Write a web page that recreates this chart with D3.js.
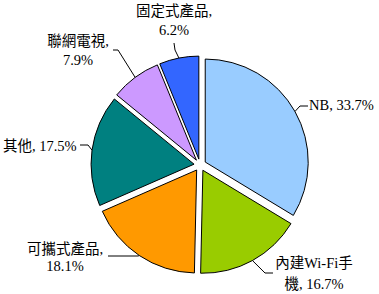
<!DOCTYPE html>
<html>
<head>
<meta charset="utf-8">
<script src="https://cdn.jsdelivr.net/npm/d3@7"></script>
<style>
  body { margin: 0; background: #fff; }
  svg text { font-family: "Liberation Serif", "Times New Roman", "Noto Sans CJK TC", serif; font-size: 14.5px; fill: #000; }
</style>
</head>
<body>
<div id="chart"></div>
<script>
// data
var categories = ["NB", "內建Wi-Fi手機", "可攜式產品", "其他", "聯網電視", "固定式產品"];
var shares = [33.7, 16.7, 18.1, 17.5, 7.9, 6.2];
var labelLines = [
  ["NB, 33.7%"],
  ["內建Wi-Fi手", "機, 16.7%"],
  ["可攜式產品,", "18.1%"],
  ["其他, 17.5%"],
  ["聯網電視,", "7.9%"],
  ["固定式產品,", "6.2%"]
];
var colors = ["#99ccff", "#99cc00", "#ff9900", "#008080", "#cc99ff", "#3366ff"];

// layout
var width = 379, height = 294;
var cx = 200, cy = 165, radius = 103, explode = 6;
var labelLayout = [
  { x: 309, y: [110], anchor: "start", leader: [[300, 106], [308, 106]] },
  { x: 314, y: [268, 289], anchor: "middle", leader: [[265, 273], [273, 273]] },
  { x: 65, y: [254, 271], anchor: "middle", leader: [[138, 256], [108, 256]] },
  { x: 3, y: [151], anchor: "start", leader: [[88, 145], [80, 145]] },
  { x: 78, y: [46, 65], anchor: "middle", leader: [[118, 50], [113, 50]] },
  { x: 174, y: [16, 35], anchor: "middle", leader: [[175, 50], [174, 43]] }
];

var svg = d3.select("#chart").append("svg")
  .attr("width", width)
  .attr("height", height);

var pie = d3.pie().sort(null).value(d => d);
var arcs = pie(shares);

var arc = d3.arc().innerRadius(0).outerRadius(radius);

var g = svg.append("g").attr("transform", "translate(" + cx + "," + cy + ")");

function offsetOf(d) {
  var a = (d.startAngle + d.endAngle) / 2;
  return [Math.sin(a) * explode, -Math.cos(a) * explode];
}

// slices
g.selectAll("path.slice")
  .data(arcs)
  .enter().append("path")
  .attr("class", "slice")
  .attr("d", arc)
  .attr("transform", d => "translate(" + offsetOf(d) + ")")
  .attr("fill", (d, i) => colors[i])
  .attr("stroke", "#000")
  .attr("stroke-width", 1);

// leader lines, from the arc middle to the label
svg.selectAll("polyline.leader")
  .data(arcs)
  .enter().append("polyline")
  .attr("class", "leader")
  .attr("points", (d, i) => {
    var a = (d.startAngle + d.endAngle) / 2;
    var o = offsetOf(d);
    var p0 = [cx + o[0] + Math.sin(a) * radius, cy + o[1] - Math.cos(a) * radius];
    return [p0].concat(labelLayout[i].leader).join(" ");
  })
  .attr("fill", "none")
  .attr("stroke", "#000")
  .attr("stroke-width", 1);

// labels
var labels = svg.selectAll("text.label")
  .data(arcs)
  .enter().append("text")
  .attr("class", "label")
  .attr("text-anchor", (d, i) => labelLayout[i].anchor);

labels.each(function(d, i) {
  var t = d3.select(this);
  labelLines[i].forEach((line, k) => {
    t.append("tspan")
      .attr("x", labelLayout[i].x)
      .attr("y", labelLayout[i].y[k])
      .text(line);
  });
});
</script>
</body>
</html>
